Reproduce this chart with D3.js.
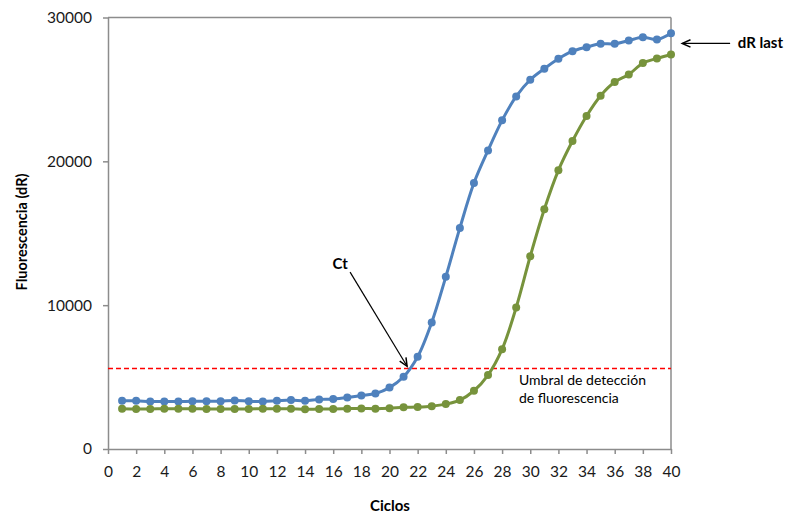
<!DOCTYPE html>
<html>
<head>
<meta charset="utf-8">
<script src="https://cdn.jsdelivr.net/npm/d3@7"></script>
<style>
  body { margin: 0; background: #fff; }
  text { font-family: Lato, "Open Sans", sans-serif; }
</style>
</head>
<body>
<div id="chart"></div>
<script>
// cycles and the two amplification curves (dR)
var cycles = d3.range(1, 41);

var blueSeries = [3350, 3350, 3300, 3300, 3300, 3320, 3320, 3320, 3380, 3320,
                  3300, 3350, 3400, 3350, 3450, 3480, 3580, 3720, 3860, 4270,
                  5020, 6410, 8800, 11970, 15370, 18490, 20760, 22850, 24510, 25670,
                  26440, 27130, 27660, 27940, 28170, 28170, 28400, 28630, 28470, 28910];

var greenSeries = [2800, 2780, 2780, 2800, 2800, 2800, 2780, 2780, 2780, 2780,
                   2800, 2800, 2800, 2760, 2780, 2780, 2800, 2820, 2800, 2830,
                   2900, 2920, 2980, 3120, 3400, 4050, 5140, 6940, 9840, 13400,
                   16670, 19375, 21410, 23150, 24560, 25510, 26040, 26830, 27150, 27430];

var threshold = 5600;

var xTicks = d3.range(0, 41, 2);
var yTicks = [0, 10000, 20000, 30000];

const width = 787, height = 515;
const margin = {top: 17.5, right: 116, bottom: 66, left: 108};

var axisGrey = "#8c8c8c";

var svg = d3.select("#chart").append("svg")
    .attr("width", width)
    .attr("height", height);

var x = d3.scaleLinear()
    .domain([0, 40])
    .range([margin.left, width - margin.right]);

var y = d3.scaleLinear()
    .domain([0, 30000])
    .range([height - margin.bottom, margin.top]);

// frame: top and right edges
svg.append("line")
    .attr("x1", x(0)).attr("x2", x(40))
    .attr("y1", y(30000)).attr("y2", y(30000))
    .attr("stroke", axisGrey).attr("stroke-width", 1.5);
svg.append("line")
    .attr("x1", x(40)).attr("x2", x(40))
    .attr("y1", y(30000)).attr("y2", y(0))
    .attr("stroke", axisGrey).attr("stroke-width", 1.5);

// axes
var xAxis = svg.append("g")
    .attr("transform", "translate(0," + y(0) + ")")
    .call(d3.axisBottom(x).tickValues(xTicks).tickSize(5).tickSizeOuter(0).tickPadding(12));

var yAxis = svg.append("g")
    .attr("transform", "translate(" + x(0) + ",0)")
    .call(d3.axisLeft(y).tickValues(yTicks).tickFormat(d3.format("d"))
            .tickSize(5).tickSizeOuter(0).tickPadding(11));

[xAxis, yAxis].forEach(function(g) {
    g.select(".domain").attr("stroke", axisGrey).attr("stroke-width", 1.5);
    g.selectAll(".tick line").attr("stroke", axisGrey).attr("stroke-width", 1.5);
    g.selectAll(".tick text")
        .attr("fill", "#1a1a1a")
        .style("font-family", "Lato, sans-serif")
        .style("font-size", "15.5px");
});

// axis titles
svg.append("text")
    .attr("x", 390).attr("y", 511)
    .attr("text-anchor", "middle")
    .style("font-size", "15px").style("font-weight", "bold")
    .text("Ciclos");

svg.append("text")
    .attr("transform", "translate(27,232) rotate(-90)")
    .attr("text-anchor", "middle")
    .style("font-size", "14.5px").style("font-weight", "bold")
    .text("Fluorescencia (dR)");

// threshold line
svg.append("line")
    .attr("x1", x(0)).attr("x2", x(40))
    .attr("y1", y(threshold)).attr("y2", y(threshold))
    .attr("stroke", "#ff0000")
    .attr("stroke-width", 1.5)
    .attr("stroke-dasharray", "5,3");

// curves
var seriesList = [
    {values: blueSeries, color: "#4f81bd"},
    {values: greenSeries, color: "#77933c"}
];

var line = d3.line()
    .x(function(d, i) { return x(cycles[i]); })
    .y(function(d) { return y(d); })
    .curve(d3.curveCatmullRom.alpha(0.5));

seriesList.forEach(function(s) {
    svg.append("path")
        .datum(s.values)
        .attr("fill", "none")
        .attr("stroke", s.color)
        .attr("stroke-width", 3)
        .attr("d", line);

    svg.selectAll(null)
        .data(s.values)
        .enter().append("circle")
        .attr("cx", function(d, i) { return x(cycles[i]); })
        .attr("cy", function(d) { return y(d); })
        .attr("r", 4)
        .attr("fill", s.color);
});

// annotations
function arrow(x1, y1, x2, y2) {
    var ang = Math.atan2(y2 - y1, x2 - x1);
    var len = 9, spread = 0.42;
    svg.append("line")
        .attr("x1", x1).attr("y1", y1).attr("x2", x2).attr("y2", y2)
        .attr("stroke", "#000").attr("stroke-width", 1.2);
    svg.append("path")
        .attr("d", "M" + (x2 - len * Math.cos(ang - spread)) + "," + (y2 - len * Math.sin(ang - spread)) +
                   "L" + x2 + "," + y2 +
                   "L" + (x2 - len * Math.cos(ang + spread)) + "," + (y2 - len * Math.sin(ang + spread)))
        .attr("fill", "none").attr("stroke", "#000").attr("stroke-width", 1.5);
}

arrow(x(17.2), y(12300), x(21.25), y(5750));
svg.append("text")
    .attr("x", x(16.5)).attr("y", y(12500))
    .attr("text-anchor", "middle")
    .style("font-size", "15px").style("font-weight", "bold")
    .text("Ct");

arrow(x(44.2), y(28200), x(40.8), y(28200));
svg.append("text")
    .attr("x", x(44.75)).attr("y", y(28200) + 5)
    .style("font-size", "15px").style("font-weight", "bold")
    .text("dR last");

svg.append("text")
    .attr("x", x(29.2)).attr("y", y(threshold) + 17)
    .style("font-size", "14px")
    .text("Umbral de detección");
svg.append("text")
    .attr("x", x(29.2)).attr("y", y(threshold) + 35)
    .style("font-size", "14px")
    .text("de fluorescencia");
</script>
</body>
</html>
